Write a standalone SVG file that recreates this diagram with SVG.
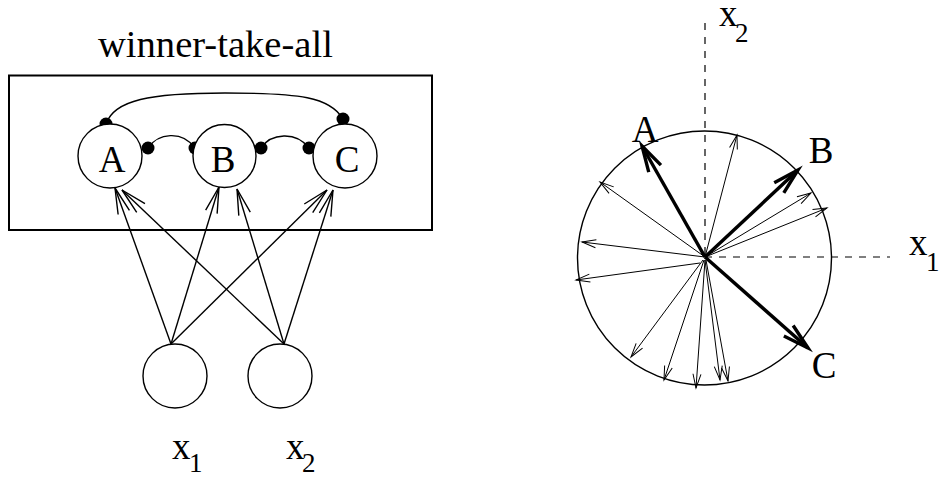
<svg xmlns="http://www.w3.org/2000/svg" width="939" height="477" viewBox="0 0 939 477">
<style>
text{font-family:'Liberation Serif','Times New Roman',Times,serif;fill:#000}
.t{font-size:37px}
.title{font-size:38.6px}
.sub{font-size:27px}
.node{fill:#fff;stroke:#000;stroke-width:1.4}
.ln{fill:none;stroke:#000;stroke-width:1.4}
.thin{fill:none;stroke:#000;stroke-width:1}
.thick{fill:none;stroke:#000;stroke-width:3.4}
.dash{fill:none;stroke:#000;stroke-width:1.2;stroke-dasharray:7 7}
.dot{fill:#000}
</style>
<defs>
<marker id="aL" markerUnits="userSpaceOnUse" viewBox="-30 -10 34 20" refX="0" refY="0" markerWidth="34" markerHeight="20" orient="auto" overflow="visible"><path d="M-26,-6 L0,0 L-26,6" fill="none" stroke="#000" stroke-width="1.4"/></marker>
<marker id="aT" markerUnits="userSpaceOnUse" viewBox="-18 -6 20 12" refX="0" refY="0" markerWidth="20" markerHeight="12" orient="auto" overflow="visible"><path d="M-14,-4 L0,0 L-14,4" fill="none" stroke="#000" stroke-width="1"/></marker>
<marker id="aK" markerUnits="userSpaceOnUse" viewBox="-30 -10 34 20" refX="0" refY="0" markerWidth="34" markerHeight="20" orient="auto" overflow="visible"><path d="M-26,-7 L0,0 L-26,7" fill="none" stroke="#000" stroke-width="3.4" stroke-linejoin="miter"/></marker>
</defs>
<rect width="939" height="477" fill="#fff"/>

<g id="box">
<rect x="9" y="75.5" width="423" height="154.5" fill="none" stroke="#000" stroke-width="2"/>
<text class="title" x="98" y="57">winner-take-all</text>
</g>

<g id="connectors">
<path class="ln" d="M99,130 L106,124 C114,100 150,93 225,93 C300,93 330,97 343,119 L348,132"/>
<path class="ln" d="M148,148 C158,133 182,130 195,148"/>
<path class="ln" d="M261,148 C271,133 296,131 309,148"/>
<circle class="dot" cx="106" cy="124" r="6.5"/>
<circle class="dot" cx="343" cy="119" r="6.5"/>
<circle class="dot" cx="148" cy="148" r="6.5"/>
<circle class="dot" cx="195" cy="148" r="6.5"/>
<circle class="dot" cx="261" cy="148" r="6.5"/>
<circle class="dot" cx="309" cy="148" r="6.5"/>
<line class="ln" x1="171" y1="344" x2="115" y2="188" marker-end="url(#aL)"/>
<line class="ln" x1="171" y1="344" x2="219" y2="187" marker-end="url(#aL)"/>
<line class="ln" x1="171" y1="344" x2="327" y2="190" marker-end="url(#aL)"/>
<line class="ln" x1="284" y1="344" x2="122" y2="190" marker-end="url(#aL)"/>
<line class="ln" x1="284" y1="344" x2="237" y2="189" marker-end="url(#aL)"/>
<line class="ln" x1="284" y1="344" x2="333" y2="190" marker-end="url(#aL)"/>
</g>

<g id="nodeA"><circle class="node" cx="110" cy="156" r="32"/><text class="t" x="112" y="172" text-anchor="middle">A</text></g>
<g id="nodeB"><circle class="node" cx="224.5" cy="156" r="31.5"/><text class="t" x="223" y="172" text-anchor="middle">B</text></g>
<g id="nodeC"><circle class="node" cx="345" cy="156" r="32"/><text class="t" x="347" y="172" text-anchor="middle">C</text></g>
<g id="nodeX1"><circle class="node" cx="175" cy="376" r="32"/><text class="t" x="172" y="459">x<tspan class="sub" x="189" y="472">1</tspan></text></g>
<g id="nodeX2"><circle class="node" cx="280" cy="376" r="32"/><text class="t" x="286" y="459">x<tspan class="sub" x="302" y="472">2</tspan></text></g>

<g id="vectorplot">
<circle cx="704.5" cy="258" r="127" fill="none" stroke="#000" stroke-width="1.4"/>
<line class="dash" x1="705" y1="23" x2="705" y2="257"/>
<line class="dash" x1="705" y1="257" x2="890" y2="257"/>
<text class="t" x="719" y="26">x<tspan class="sub" x="735" y="42">2</tspan></text>
<text class="t" x="909" y="255">x<tspan class="sub" x="926" y="271">1</tspan></text>
<line class="thin" x1="705" y1="257" x2="737" y2="135" marker-end="url(#aT)"/>
<line class="thin" x1="705" y1="257" x2="600" y2="182" marker-end="url(#aT)"/>
<line class="thin" x1="705" y1="257" x2="582" y2="242" marker-end="url(#aT)"/>
<line class="thin" x1="700" y1="263" x2="576" y2="280" marker-end="url(#aT)"/>
<line class="thin" x1="703" y1="260" x2="631" y2="357" marker-end="url(#aT)"/>
<line class="thin" x1="704" y1="260" x2="664" y2="380" marker-end="url(#aT)"/>
<line class="thin" x1="705" y1="260" x2="696" y2="388" marker-end="url(#aT)"/>
<line class="thin" x1="705" y1="260" x2="720" y2="380" marker-end="url(#aT)"/>
<line class="thin" x1="706" y1="260" x2="728" y2="381" marker-end="url(#aT)"/>
<line class="thin" x1="705" y1="257" x2="811" y2="193" marker-end="url(#aT)"/>
<line class="thin" x1="705" y1="257" x2="827" y2="208" marker-end="url(#aT)"/>
<line class="thick" x1="705" y1="257" x2="642" y2="146" marker-end="url(#aK)"/>
<line class="thick" x1="705" y1="257" x2="798" y2="170" marker-end="url(#aK)"/>
<line class="thick" x1="705" y1="257" x2="808" y2="348" marker-end="url(#aK)"/>
<text class="t" x="645" y="142" text-anchor="middle">A</text>
<text class="t" x="821" y="163" text-anchor="middle">B</text>
<text class="t" x="824" y="378" text-anchor="middle">C</text>
</g>
</svg>
